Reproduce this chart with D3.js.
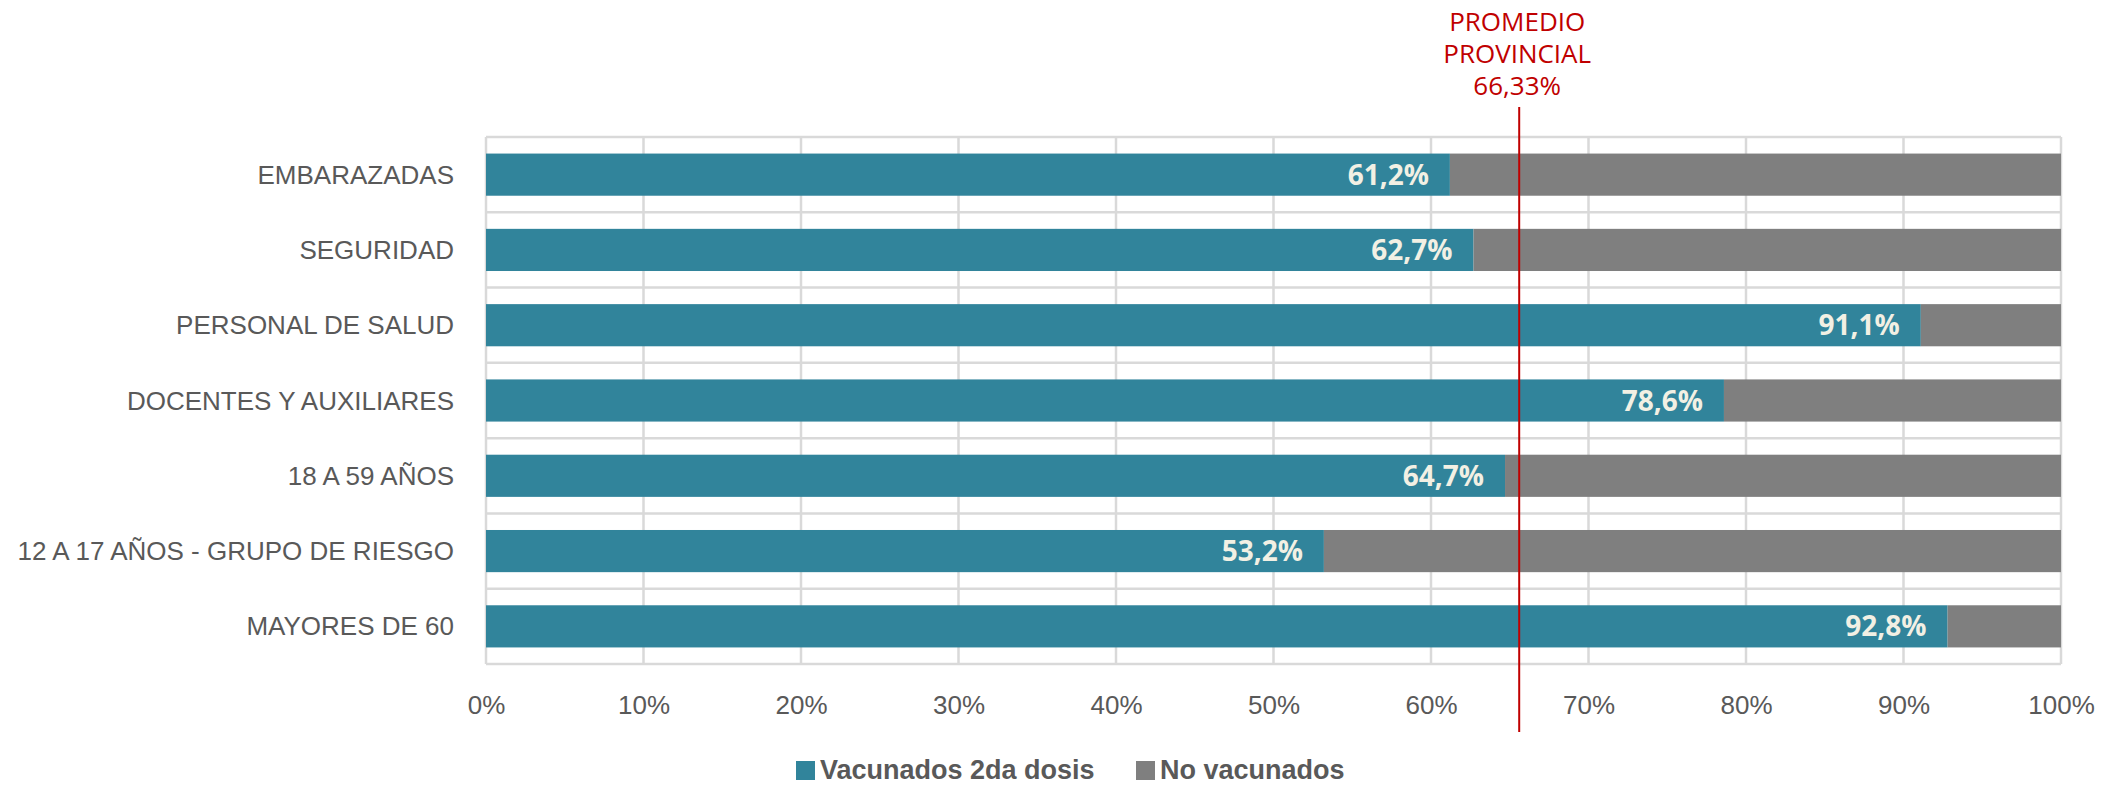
<!DOCTYPE html>
<html>
<head>
<meta charset="utf-8">
<script src="https://cdn.jsdelivr.net/npm/d3@7"></script>
<style>
  html, body { margin: 0; padding: 0; background: #ffffff; }
  svg { display: block; }
</style>
</head>
<body>
<svg id="chart" width="2113" height="785"></svg>
<script>
// ---- data ----
const categories = [
  "EMBARAZADAS",
  "SEGURIDAD",
  "PERSONAL DE SALUD",
  "DOCENTES Y AUXILIARES",
  "18 A 59 AÑOS",
  "12 A 17 AÑOS - GRUPO DE RIESGO",
  "MAYORES DE 60"
];
const vacunados = [61.2, 62.7, 91.1, 78.6, 64.7, 53.2, 92.8];
const noVacunados = vacunados.map(v => 100 - v);
const xTicks = [0, 10, 20, 30, 40, 50, 60, 70, 80, 90, 100];
const seriesNames = ["Vacunados 2da dosis", "No vacunados"];
const promedioLabel = ["PROMEDIO", "PROVINCIAL", "66,33%"];
const promedioLinePos = [65.6]; // where the reference line is drawn

// ---- layout ----
const W = 2113, H = 785;
const plot = { left: 486, right: 2061, top: 137, bottom: 664 };
const colors = { vac: "#31849B", no: "#7F7F7F", grid: "#D9D9D9", text: "#595959", red: "#C00000", label: "#F2F0E4" };

const svg = d3.select("#chart");

const x = d3.scaleLinear().domain([0, 100]).range([plot.left, plot.right]);
const y = d3.scaleBand().domain(categories).range([plot.top, plot.bottom])
  .paddingInner(0.44).paddingOuter(0.22);

// gridlines
const grid = svg.append("g");
grid.selectAll("line.v").data(xTicks).enter().append("line")
  .attr("x1", d => x(d)).attr("x2", d => x(d))
  .attr("y1", plot.top).attr("y2", plot.bottom)
  .attr("stroke", colors.grid).attr("stroke-width", 2.5);
const hLines = d3.range(categories.length + 1).map(i => plot.top + i * (plot.bottom - plot.top) / categories.length);
grid.selectAll("line.h").data(hLines).enter().append("line")
  .attr("x1", plot.left).attr("x2", plot.right)
  .attr("y1", d => d).attr("y2", d => d)
  .attr("stroke", colors.grid).attr("stroke-width", 2.5);

// bars
const rows = categories.map((c, i) => ({ c, v: vacunados[i], n: noVacunados[i] }));
svg.append("g").selectAll("rect").data(rows).enter().append("rect")
  .attr("x", x(0)).attr("y", d => y(d.c))
  .attr("width", d => x(d.v) - x(0)).attr("height", y.bandwidth())
  .attr("fill", colors.vac);
svg.append("g").selectAll("rect").data(rows).enter().append("rect")
  .attr("x", d => x(d.v)).attr("y", d => y(d.c))
  .attr("width", d => x(d.v + d.n) - x(d.v)).attr("height", y.bandwidth())
  .attr("fill", colors.no);

// data labels
svg.append("g").selectAll("text").data(rows).enter().append("text")
  .attr("x", d => x(d.v) - 21)
  .attr("y", d => y(d.c) + y.bandwidth() / 2 + 10)
  .attr("text-anchor", "end")
  .attr("font-family", "'Open Sans', sans-serif")
  .attr("font-weight", "bold")
  .attr("font-size", 28)
  .attr("fill", colors.label)
  .text(d => d.v.toFixed(1).replace(".", ",") + "%");

// category axis labels
svg.append("g").selectAll("text").data(categories).enter().append("text")
  .attr("x", plot.left - 32)
  .attr("y", d => y(d) + y.bandwidth() / 2 + 9)
  .attr("text-anchor", "end")
  .attr("font-family", "'Liberation Sans', Arial, sans-serif")
  .attr("font-size", 26)
  .attr("fill", colors.text)
  .text(d => d);

// x axis tick labels
const xAxis = d3.axisBottom(x).tickValues(xTicks).tickFormat(d => d + "%").tickSize(0).tickPadding(0);
const gx = svg.append("g").attr("transform", `translate(0, 696)`).call(xAxis);
gx.select(".domain").remove();
gx.selectAll("text")
  .attr("font-family", "'Liberation Sans', Arial, sans-serif")
  .attr("font-size", 26)
  .attr("fill", colors.text)
  .attr("dy", "0.71em");

// promedio line
svg.append("g").selectAll("line").data(promedioLinePos).enter().append("line")
  .attr("x1", d => x(d)).attr("x2", d => x(d))
  .attr("y1", 107).attr("y2", 732)
  .attr("stroke", colors.red).attr("stroke-width", 2);
svg.append("g").selectAll("text").data(promedioLabel).enter().append("text")
  .attr("x", x(promedioLinePos[0]) - 2)
  .attr("y", (d, i) => 31 + i * 32)
  .attr("text-anchor", "middle")
  .attr("font-family", "'Open Sans', sans-serif")
  .attr("font-size", 26)
  .attr("fill", colors.red)
  .text(d => d);

// legend
const legend = svg.append("g").attr("font-family", "'Liberation Sans', Arial, sans-serif")
  .attr("font-weight", "bold").attr("font-size", 27).attr("fill", colors.text);
const legendItems = [
  { name: seriesNames[0], color: colors.vac, x: 796 },
  { name: seriesNames[1], color: colors.no, x: 1136 }
];
const li = legend.selectAll("g").data(legendItems).enter().append("g");
li.append("rect").attr("x", d => d.x).attr("y", 761).attr("width", 19).attr("height", 19).attr("fill", d => d.color);
li.append("text").attr("x", d => d.x + 24).attr("y", 779).text(d => d.name);
</script>
</body>
</html>
